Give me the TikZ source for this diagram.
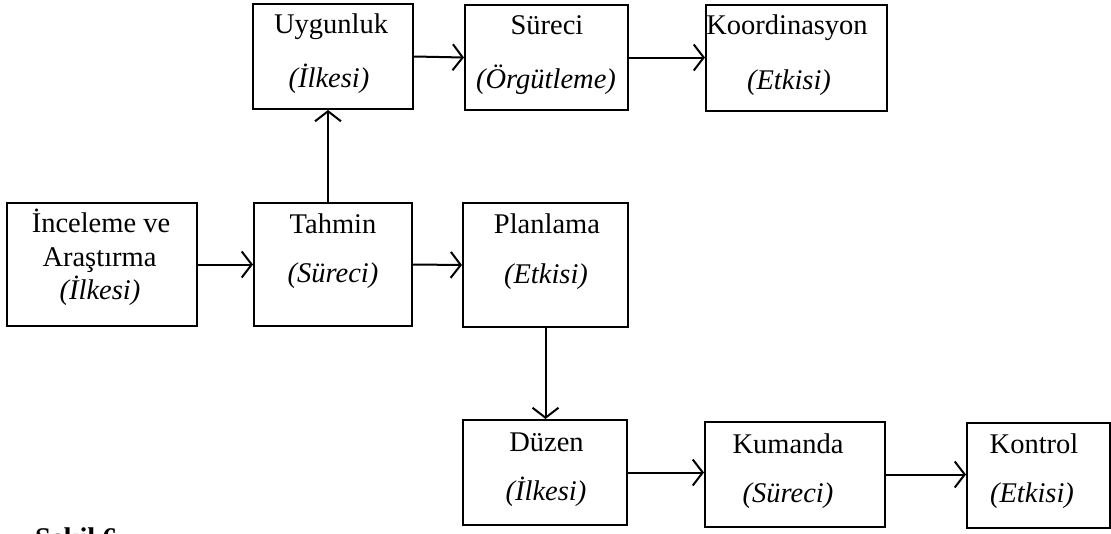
\documentclass[tikz,border=0pt]{standalone}
\usepackage{fontspec}
\setmainfont{Liberation Serif}
\usetikzlibrary{arrows.meta}
\begin{document}
\begin{tikzpicture}[x=1pt,y=-1pt,
  box/.style={draw, line width=2pt, inner sep=0pt, minimum height=105pt},
  txt/.style={anchor=base, inner sep=0pt, font=\fontsize{28.5}{34}\selectfont},
  itx/.style={txt, font=\fontsize{28.5}{34}\selectfont\itshape},
  conn/.style={line width=2pt, -{Straight Barb[length=10pt,width=26pt,line width=2pt]}}]
\useasboundingbox (0,0) rectangle (1111,533);
% boxes
\node[box, minimum width=160pt] (u) at (333,56.5) {};
\node[box, minimum width=163pt] (s) at (546.5,57.5) {};
\node[box, minimum width=181pt, minimum height=106pt] (k) at (796.5,58) {};
\node[box, minimum width=190pt, minimum height=123pt] (i) at (102,264.5) {};
\node[box, minimum width=158pt, minimum height=123pt] (t) at (333,264.5) {};
\node[box, minimum width=165pt, minimum height=124pt] (p) at (545.5,265) {};
\node[box, minimum width=164pt] (d) at (545,472.5) {};
\node[box, minimum width=180pt] (m) at (795,474.5) {};
\node[box, minimum width=143pt] (c) at (1038.5,475.5) {};
% texts
\node[txt] (u1) at (331,33) {Uygunluk};
\node[itx] (u2) at (329,87) {(İlkesi)};
\node[txt] (s1) at (547,34) {Süreci};
\node[itx] (s2) at (546,88) {(Örgütleme)};
\node[txt] (k1) at (787,34) {Koordinasyon};
\node[itx] (k2) at (789,89) {(Etkisi)};
\node[txt] (i1) at (101,232) {İnceleme ve};
\node[txt] (i2) at (99.5,266) {Araştırma};
\node[itx] (i3) at (100,299) {(İlkesi)};
\node[txt] (t1) at (333,233) {Tahmin};
\node[itx] (t2) at (333,282) {(Süreci)};
\node[txt] (p1) at (547,233) {Planlama};
\node[itx] (p2) at (546,283) {(Etkisi)};
\node[txt] (d1) at (546.5,451) {Düzen};
\node[itx] (d2) at (546,500) {(İlkesi)};
\node[txt] (m1) at (788,453) {Kumanda};
\node[itx] (m2) at (788,502) {(Süreci)};
\node[txt] (c1) at (1034,453) {Kontrol};
\node[itx] (c2) at (1032,502) {(Etkisi)};
\node[txt, anchor=base west, font=\fontsize{28.5}{34}\selectfont\bfseries] (sek) at (35,547) {Şekil 6};
% connectors
\draw[conn] (i.east) -- (t.west);
\draw[conn] (t.east) -- (p.west);
\draw[conn] ([xshift=-5pt]t.north) -- ([xshift=-5pt]u.south);
\draw[conn] (u.east) -- (s.west);
\draw[conn] (s.east) -- (s.east -| k.west);
\draw[conn] (p.south) -- (p.south |- d.north);
\draw[conn] (d.east) -- (d.east -| m.west);
\draw[conn] (m.east) -- (m.east -| c.west);
\end{tikzpicture}
\end{document}
